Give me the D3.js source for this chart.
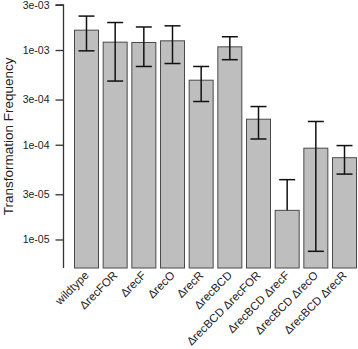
<!DOCTYPE html>
<html>
<head>
<meta charset="utf-8">
<script src="https://cdn.jsdelivr.net/npm/d3@7"></script>
<style>
  body { margin: 0; background: #fff; }
  svg { display: block; font-family: "Liberation Sans", Arial, sans-serif; }
</style>
</head>
<body>
<div id="chart"></div>
<script>
// strains, bar heights and error bar ends
const strains = ['wildtype', 'ΔrecFOR', 'ΔrecF', 'ΔrecO', 'ΔrecR', 'ΔrecBCD',
  'ΔrecBCD ΔrecFOR', 'ΔrecBCD ΔrecF', 'ΔrecBCD ΔrecO', 'ΔrecBCD ΔrecR'];
const means = [1.62e-3, 1.21e-3, 1.2e-3, 1.25e-3, 4.8e-4, 1.08e-3, 1.86e-4, 2.03e-5, 9.2e-5, 7.3e-5];
const upper = [2.28e-3, 1.95e-3, 1.75e-3, 1.8e-3, 6.7e-4, 1.38e-3, 2.53e-4, 4.28e-5, 1.76e-4, 9.8e-5];
const lower = [9.8e-4, 4.7e-4, 6.7e-4, 7.2e-4, 2.86e-4, 7.9e-4, 1.15e-4, null, 7.5e-6, 4.9e-5];
const tickVals = [1e-5, 3e-5, 1e-4, 3e-4, 1e-3, 3e-3];
const tickLabels = ['1e-05', '3e-05', '1e-04', '3e-04', '1e-03', '3e-03'];

const W = 358, H = 349;
const svg = d3.select('#chart').append('svg').attr('width', W).attr('height', H);

// log y: 1e-03 sits at y=49.3, one decade is ~95px
const y = d3.scaleLog().domain([5e-6, 3e-3]).range([268, 4.8]);
const x = d3.scaleBand().domain(strains).range([74.5, 356.5]).paddingInner(0.163).paddingOuter(0);

// bars from the bottom of the axis
svg.append('g').selectAll('rect').data(strains).join('rect')
  .attr('x', d => x(d)).attr('width', x.bandwidth())
  .attr('y', (d, i) => y(means[i])).attr('height', (d, i) => y.range()[0] - y(means[i]))
  .attr('fill', '#bebebe').attr('stroke', '#4a4a4a').attr('stroke-width', 1);

// error bars
const cap = 8;
const eb = svg.append('g').attr('stroke', '#111').attr('stroke-width', 1.5).attr('fill', 'none');
strains.forEach((s, i) => {
  const cx = x(s) + x.bandwidth() / 2;
  const top = y(upper[i]);
  const bot = lower[i] ? y(lower[i]) : y(means[i]);
  eb.append('line').attr('x1', cx).attr('x2', cx).attr('y1', top).attr('y2', bot);
  eb.append('line').attr('x1', cx - cap).attr('x2', cx + cap).attr('y1', top).attr('y2', top);
  if (lower[i]) eb.append('line').attr('x1', cx - cap).attr('x2', cx + cap).attr('y1', bot).attr('y2', bot);
});

// y axis
const yAxis = d3.axisLeft(y).tickValues(tickVals).tickFormat((d, i) => tickLabels[i]).tickSize(8).tickPadding(6);
const ga = svg.append('g').attr('transform', 'translate(63.5,0)').call(yAxis);
ga.select('.domain').attr('d', `M-8,${y(3e-3)}H0V${y.range()[0]}`).attr('stroke', '#333').attr('stroke-width', 1.3);
ga.selectAll('.tick line').attr('stroke', '#333').attr('stroke-width', 1.3);
ga.selectAll('.tick text').attr('font-size', 10.5).attr('fill', '#222')
  .attr('font-family', '"Liberation Sans", Arial, sans-serif');

svg.append('text')
  .attr('transform', `translate(12.5,${(y.range()[0] + y.range()[1]) / 2}) rotate(-90)`)
  .attr('text-anchor', 'middle').attr('font-size', 13.5).attr('fill', '#222')
  .text('Transformation Frequency');

// rotated strain labels
svg.append('g').selectAll('text').data(strains).join('text')
  .attr('transform', d => `translate(${x(d) + x.bandwidth() / 2 + 3},${276}) rotate(-45)`)
  .attr('text-anchor', 'end').attr('font-size', 11.5).attr('fill', '#222')
  .text(d => d);
</script>
</body>
</html>
